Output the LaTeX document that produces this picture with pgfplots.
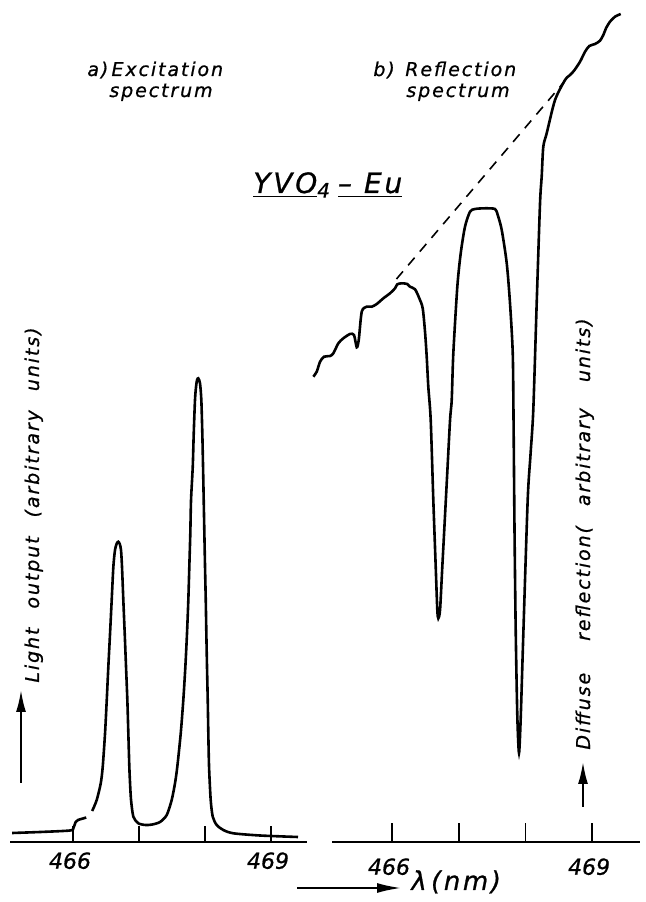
\documentclass[border=0pt]{standalone}
\usepackage{pgfplots}
\pgfplotsset{compat=1.18}
\usepackage{fontspec}
\setmainfont{DejaVu Sans}
\newfontfamily\lab[LetterSpace=10,FakeBold=0.8]{DejaVu Sans}
\newfontfamily\tlab[FakeBold=0.8]{DejaVu Sans}
\usetikzlibrary{arrows.meta}
\newcommand{\ticklabfont}{\tlab\fontsize{11}{11}\selectfont\itshape}
\newcommand{\txt}{\lab\itshape\fontsize{9.5}{11}\selectfont}
\pgfplotsset{
  myaxis/.style={scale only axis, anchor=south west, ymin=0, ymax=842,
    axis x line*=bottom, axis y line=none, ytick=\empty,
    xtick={466,467,468,469}, xticklabels={466,,,469},
    tick align=inside, minor tick num=0,
    tick style={line width=0.9pt, black},
    axis line style={line width=1.3pt, black},
    clip=false,
    xticklabel style={font=\ticklabfont, inner sep=0pt, anchor=north, xshift=-1.5pt},
  },
  curve/.style={black, line width=1.3pt, smooth, tension=0.45, no marks},
}
\begin{document}
\begin{tikzpicture}[x=0.5pt,y=0.5pt]
\useasboundingbox (0,0) rectangle (645,902);
% ---- a) excitation spectrum
\begin{axis}[myaxis, at={(5pt,30pt)}, width=148.5pt, height=421pt,
  xmin=465.045, xmax=469.545, major tick length=8pt,
  xticklabel style={yshift=-5pt}]
\addplot[curve] coordinates {(465.076,9) (465.5,10) (465.955,11.5) (466.005,14) (466.04,20) (466.076,22) (466.15,23.5) (466.2,24.5)};
\addplot[curve] coordinates {(466.29,31) (466.359,42) (466.42,58.7) (466.45,75.3) (466.485,108.7) (466.511,142) (466.535,175.3) (466.561,208.7) (466.586,242) (466.611,275.3) (466.636,292) (466.662,298.5) (466.686,300.3) (466.708,298) (466.727,292) (466.742,275.3) (466.762,242) (466.783,208.7) (466.803,175.3) (466.823,142) (466.838,108.7) (466.853,75.3) (466.864,58.7) (466.879,42) (466.914,25.3) (466.989,18.7) (467.1,17) (467.2,17.5) (467.318,20) (467.42,27) (467.495,42) (467.545,58.7) (467.58,75.3) (467.632,108.7) (467.671,142) (467.702,175.3) (467.727,208.7) (467.747,242) (467.762,275.3) (467.777,308.7) (467.788,342) (467.814,375.3) (467.829,408.7) (467.848,442) (467.864,455.3) (467.879,462) (467.898,463.7) (467.924,458.7) (467.944,442) (467.959,408.7) (467.970,375.3) (467.980,342) (467.990,308.7) (468.0,275.3) (468.011,242) (468.02,208.7) (468.030,175.3) (468.041,142) (468.05,108.7) (468.061,75.3) (468.086,42) (468.117,25.3) (468.177,17) (468.277,12) (468.429,8.7) (468.833,6.5) (469.409,5)};
\end{axis}
% ---- b) reflection spectrum
\begin{axis}[myaxis, at={(166pt,30pt)}, width=154pt, height=421pt,
  xmin=465.1, xmax=469.718, major tick length=9.5pt,
  xticklabel style={yshift=-8pt}]
\addplot[curve] coordinates {(464.820,465.3) (464.871,470.3) (464.921,480.3) (464.981,485.3) (465.070,486) (465.120,488.7) (465.195,498.7) (465.270,503.7) (465.370,508) (465.430,507) (465.471,494.7) (465.501,502) (465.546,530.3) (465.621,535.3) (465.696,535.3) (465.771,538) (465.870,543.7) (465.970,548.7) (466.045,553.7) (466.079,557.7) (466.145,558.7) (466.229,558) (466.270,555.3) (466.345,552.7) (466.409,543.7) (466.460,533.7) (466.495,510) (466.520,485.3) (466.544,455.3) (466.580,422) (466.619,342) (466.655,275.3) (466.679,232) (466.694,223.7) (466.720,232) (466.754,275.3) (466.820,358.7) (466.870,422) (466.895,442) (466.919,488.7) (466.979,555.3) (467.030,588.7) (467.094,615.3) (467.169,630.3) (467.244,633) (467.394,633.7) (467.544,633) (467.585,627) (467.645,612) (467.720,578.7) (467.769,538.7) (467.810,488.7) (467.822,422) (467.837,309) (467.855,209) (467.879,125) (467.904,89) (467.930,125) (467.969,209) (468.034,342) (468.076,387) (468.118,432) (468.169,538.7) (468.219,638.7) (468.244,665.3) (468.268,695.3) (468.319,708.7) (468.444,742) (468.594,762) (468.669,767) (468.729,771.3) (468.819,780.3) (468.894,790.3) (468.958,796) (469.043,798) (469.118,801.3) (469.168,807) (469.208,813.7) (469.268,820.3) (469.343,825.3) (469.429,828)};
\addplot[black, line width=0.8pt, dash pattern=on 5pt off 4pt, no marks] coordinates {(466.067,563) (468.579,760)};
\end{axis}
% ---- texts
\node[anchor=base west, inner sep=0pt] at (87,826) {\txt a)\,Excitation};
\node[anchor=base, inner sep=0pt] at (161,805) {\txt spectrum};
\node[anchor=base west, inner sep=0pt] at (373,826) {\txt b)\;\;Reflection};
\node[anchor=base, inner sep=0pt] at (458,805) {\txt spectrum};
\node[anchor=base west, inner sep=0pt] at (253,709)
  {\lab\itshape\fontsize{14}{16}\selectfont\underline{YVO}\raisebox{-0.3ex}{\fontsize{10}{10}\selectfont 4}\hspace{4pt}\underline{–\hspace{6pt}Eu}};
% y labels
\node[rotate=90, anchor=base west, inner sep=0pt] at (39,219)
  {\txt Light\hspace{9.5pt}output\hspace{9.5pt}(arbitrary\hspace{9.5pt}units)};
\node[rotate=90, anchor=base west, inner sep=0pt] at (590,152)
  {\txt Diffuse\hspace{16pt}reflection(\hspace{10pt}arbitrary\hspace{13pt}units)};
\draw[line width=1pt, -{Latex[length=11pt,width=5pt]}] (21,119) -- (21,212);
\draw[line width=1pt, -{Latex[length=11pt,width=5pt]}] (583,95) -- (583,140);
\draw[line width=1pt, -{Latex[length=12pt,width=5pt]}] (297,14) -- (401,14);
\node[anchor=base west, inner sep=0pt] at (411,12) {\lab\itshape\fontsize{13}{14}\selectfont λ\,(nm)};
\end{tikzpicture}
\end{document}
